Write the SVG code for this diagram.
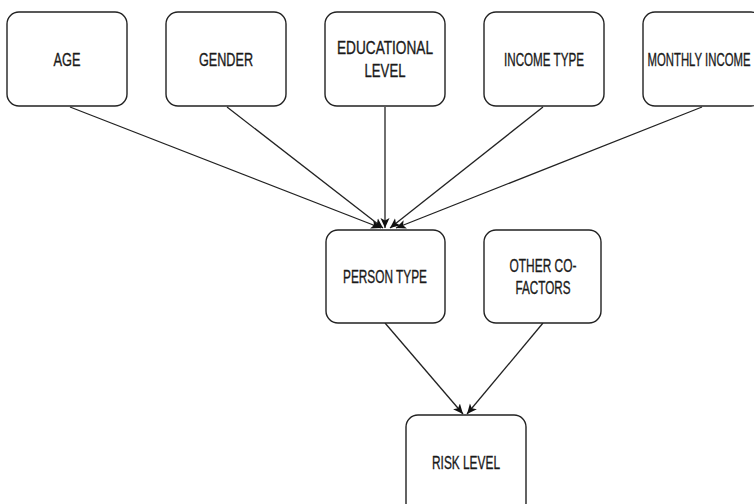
<svg xmlns="http://www.w3.org/2000/svg" width="754" height="504" viewBox="0 0 754 504">
<style>
.box{fill:#fff;stroke:#222;stroke-width:1.4}
.t{font-family:"Liberation Sans",Arial,sans-serif;font-size:18px;fill:#1a1a1a;stroke:#1a1a1a;stroke-width:0.35;text-anchor:middle}
.c{stroke:#222;stroke-width:1.3;fill:none;marker-end:url(#ah)}
</style>
<defs>
<marker id="ah" markerWidth="11" markerHeight="11" refX="10" refY="5.5" orient="auto" markerUnits="userSpaceOnUse">
<path d="M0,1 L10,5.5 L0,10 L2.5,5.5 z" fill="#111"/>
</marker>
</defs>
<rect width="754" height="504" fill="#fff"/>
<g id="connectors">
<line class="c" x1="70" y1="107" x2="381" y2="228"/>
<line class="c" x1="227" y1="107" x2="383" y2="228"/>
<line class="c" x1="385" y1="107" x2="385" y2="228"/>
<line class="c" x1="543" y1="107" x2="390" y2="228"/>
<line class="c" x1="702" y1="107" x2="396" y2="228"/>
<line class="c" x1="385" y1="323" x2="463" y2="414"/>
<line class="c" x1="543" y1="323" x2="467" y2="414"/>
</g>
<g id="age"><rect class="box" x="7" y="12" width="120" height="94" rx="12"/><text class="t" x="67" y="66" textLength="27" lengthAdjust="spacingAndGlyphs">AGE</text></g>
<g id="gender"><rect class="box" x="166" y="12" width="120" height="94" rx="12"/><text class="t" x="226" y="66" textLength="54" lengthAdjust="spacingAndGlyphs">GENDER</text></g>
<g id="educational"><rect class="box" x="325" y="12" width="120" height="94" rx="12"/><text class="t" x="385" y="54" textLength="96" lengthAdjust="spacingAndGlyphs">EDUCATIONAL</text><text class="t" x="385" y="77" textLength="41" lengthAdjust="spacingAndGlyphs">LEVEL</text></g>
<g id="income-type"><rect class="box" x="484" y="12" width="120" height="94" rx="12"/><text class="t" x="544" y="66" textLength="80" lengthAdjust="spacingAndGlyphs">INCOME TYPE</text></g>
<g id="monthly-income"><rect class="box" x="643" y="12" width="120" height="94" rx="12"/><text class="t" x="699" y="66" textLength="103" lengthAdjust="spacingAndGlyphs">MONTHLY INCOME</text></g>
<g id="person-type"><rect class="box" x="326" y="230" width="119" height="93" rx="12"/><text class="t" x="385" y="283" textLength="84" lengthAdjust="spacingAndGlyphs">PERSON TYPE</text></g>
<g id="other-cofactors"><rect class="box" x="484" y="230" width="117" height="93" rx="12"/><text class="t" x="543" y="272" textLength="67" lengthAdjust="spacingAndGlyphs">OTHER CO-</text><text class="t" x="543" y="294" textLength="55" lengthAdjust="spacingAndGlyphs">FACTORS</text></g>
<g id="risk-level"><rect class="box" x="406" y="415" width="120" height="100" rx="12"/><text class="t" x="466" y="469" textLength="68" lengthAdjust="spacingAndGlyphs">RISK LEVEL</text></g>
</svg>
